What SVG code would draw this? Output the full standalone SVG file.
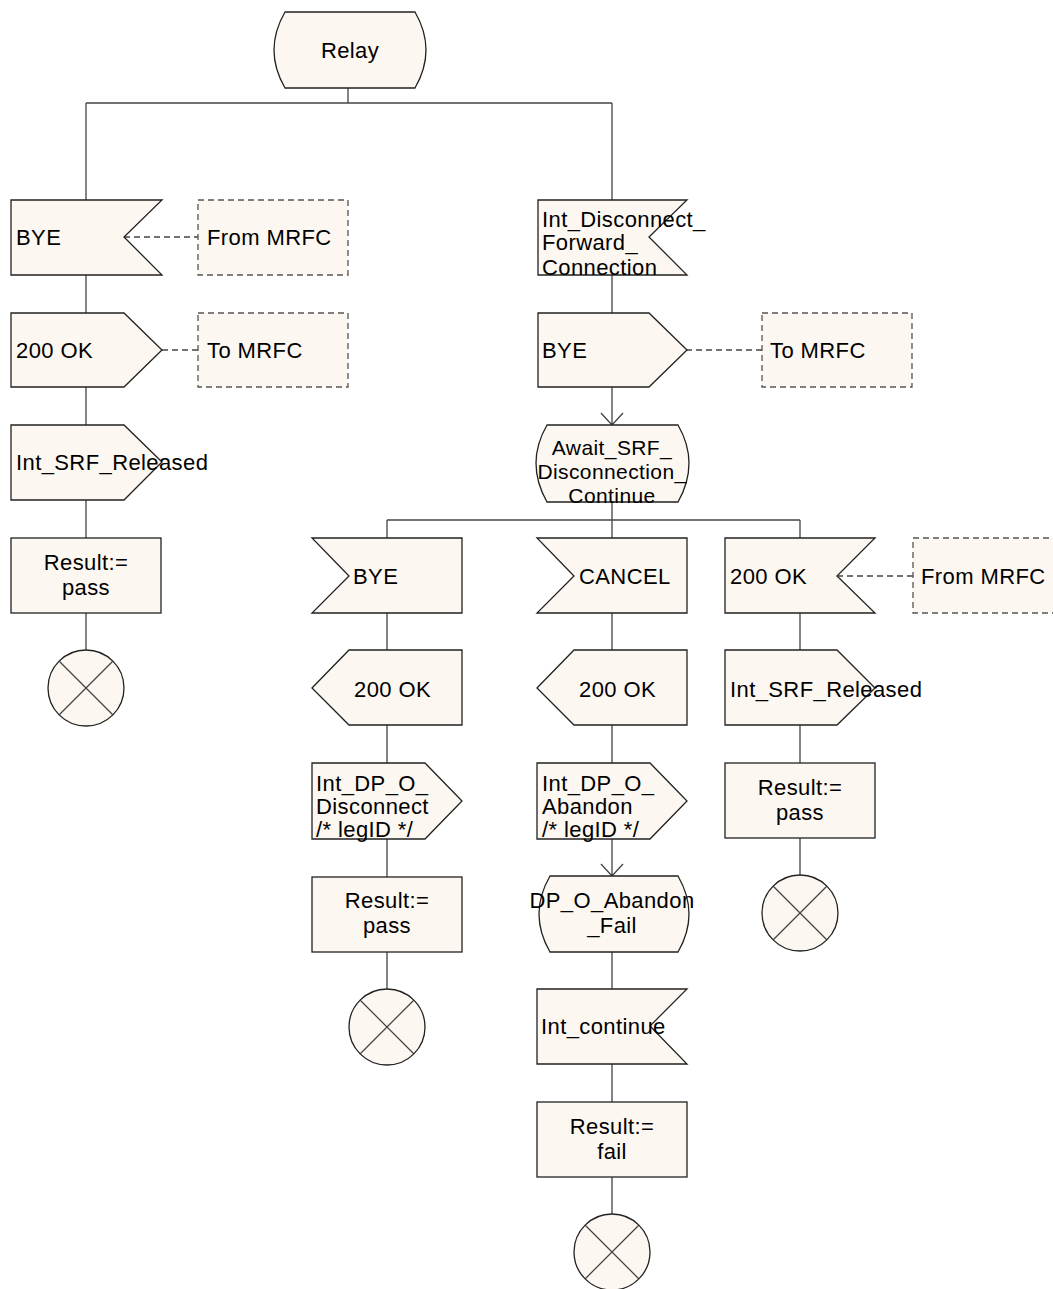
<svg xmlns="http://www.w3.org/2000/svg" width="1053" height="1289" viewBox="0 0 1053 1289">
<style>
.s{fill:#fdf7f1;stroke:#222;stroke-width:1.3}
.c{fill:#fdf7f1;stroke:#555;stroke-width:1.3;stroke-dasharray:6,4}
.l{fill:none;stroke:#444;stroke-width:1.3}
.d{fill:none;stroke:#444;stroke-width:1.3;stroke-dasharray:6,4}
text{font-family:"Liberation Sans",Arial,sans-serif;font-size:22px;letter-spacing:0.4px;fill:#000}
.m{text-anchor:middle}
.sm{font-size:21px}
</style>
<rect width="1053" height="1289" fill="#fff"/>
<g id="connectors">
<path class="l" d="M348,88V103M86,103H612M86,103V200M86,275V313M86,387V425M86,500V538M86,613V650"/>
<path class="l" d="M612,103V200M612,275V313M612,387V425M601,413L612,425L623,413M612,502V520M387,520H800M387,520V538M612,520V538M800,520V538"/>
<path class="l" d="M387,613V650M387,725V763M387,839V877M387,952V989"/>
<path class="l" d="M612,613V650M612,725V763M612,839V876M601,864L612,876L623,864M612,952V989M612,1064V1102M612,1177V1214"/>
<path class="l" d="M800,613V650M800,725V763M800,838V875"/>
<path class="d" d="M124,237H198M162,350H198M686,350H762M837,576H913"/>
</g>
<g id="relay"><path class="s" d="M285,12H415Q437,50 415,88H285Q263,50 285,12Z"/><text class="m" x="350" y="58">Relay</text></g>
<g id="bye_in_left"><path class="s" d="M11,200H162L124,237L162,275H11Z"/><text x="16" y="245">BYE</text></g>
<g id="from_mrfc_1"><rect class="c" x="198" y="200" width="150" height="75"/><text x="207" y="245">From MRFC</text></g>
<g id="ok_out_left"><path class="s" d="M11,313H124L162,350L124,387H11Z"/><text x="16" y="358">200 OK</text></g>
<g id="to_mrfc_1"><rect class="c" x="198" y="313" width="150" height="74"/><text x="207" y="358">To MRFC</text></g>
<g id="srf_rel_left"><path class="s" d="M11,425H124L162,462L124,500H11Z"/><text x="16" y="470">Int_SRF_Released</text></g>
<g id="result_left"><rect class="s" x="11" y="538" width="150" height="75"/><text class="m" x="86" y="570">Result:=</text><text class="m" x="86" y="595">pass</text></g>
<g id="stop_left"><circle class="s" cx="86" cy="688" r="38"/><path class="l" d="M59,661L113,715M113,661L59,715"/></g>
<g id="int_disc_in"><path class="s" d="M538,200H687L649,237L687,275H538Z"/><text x="542" y="227">Int_Disconnect_</text><text x="542" y="250">Forward_</text><text x="542" y="275">Connection</text></g>
<g id="bye_out_right"><path class="s" d="M538,313H649L687,350L649,387H538Z"/><text x="542" y="358">BYE</text></g>
<g id="to_mrfc_2"><rect class="c" x="762" y="313" width="150" height="74"/><text x="770" y="358">To MRFC</text></g>
<g id="await_state"><path class="s" d="M547,425H678Q700,463 678,502H547Q525,463 547,425Z"/><text class="m sm" x="612" y="455">Await_SRF_</text><text class="m sm" x="612" y="479">Disconnection_</text><text class="m sm" x="612" y="503">Continue</text></g>
<g id="bye_in_b1"><path class="s" d="M312,538H462V613H312L349,576Z"/><text x="353" y="584">BYE</text></g>
<g id="cancel_in"><path class="s" d="M537,538H687V613H537L574,576Z"/><text x="579" y="584">CANCEL</text></g>
<g id="ok_in_b3"><path class="s" d="M725,538H875L837,576L875,613H725Z"/><text x="730" y="584">200 OK</text></g>
<g id="from_mrfc_2"><rect class="c" x="913" y="538" width="150" height="75"/><text x="921" y="584">From MRFC</text></g>
<g id="ok_out_b1"><path class="s" d="M312,688L349,650H462V725H349Z"/><text x="354" y="697">200 OK</text></g>
<g id="ok_out_b2"><path class="s" d="M537,688L574,650H687V725H574Z"/><text x="579" y="697">200 OK</text></g>
<g id="srf_rel_b3"><path class="s" d="M725,650H837L875,688L837,725H725Z"/><text x="730" y="697">Int_SRF_Released</text></g>
<g id="dp_disc_out"><path class="s" d="M312,763H425L462,801L425,839H312Z"/><text x="316" y="791">Int_DP_O_</text><text x="316" y="814">Disconnect</text><text x="316" y="837">/* legID */</text></g>
<g id="dp_aband_out"><path class="s" d="M537,763H650L687,801L650,839H537Z"/><text x="542" y="791">Int_DP_O_</text><text x="542" y="814">Abandon</text><text x="542" y="837">/* legID */</text></g>
<g id="result_b3"><rect class="s" x="725" y="763" width="150" height="75"/><text class="m" x="800" y="795">Result:=</text><text class="m" x="800" y="820">pass</text></g>
<g id="stop_b3"><circle class="s" cx="800" cy="913" r="38"/><path class="l" d="M773,886L827,940M827,886L773,940"/></g>
<g id="result_b1"><rect class="s" x="312" y="877" width="150" height="75"/><text class="m" x="387" y="908">Result:=</text><text class="m" x="387" y="933">pass</text></g>
<g id="dp_fail_state"><path class="s" d="M550,876H678Q700,914 678,952H550Q528,914 550,876Z"/><text class="m" x="612" y="908">DP_O_Abandon</text><text class="m" x="612" y="933">_Fail</text></g>
<g id="stop_b1"><circle class="s" cx="387" cy="1027" r="38"/><path class="l" d="M360,1000L414,1054M414,1000L360,1054"/></g>
<g id="int_cont_in"><path class="s" d="M537,989H687L650,1026L687,1064H537Z"/><text x="541" y="1034">Int_continue</text></g>
<g id="result_fail"><rect class="s" x="537" y="1102" width="150" height="75"/><text class="m" x="612" y="1134">Result:=</text><text class="m" x="612" y="1159">fail</text></g>
<g id="stop_fail"><circle class="s" cx="612" cy="1252" r="38"/><path class="l" d="M585,1225L639,1279M639,1225L585,1279"/></g>
</svg>
